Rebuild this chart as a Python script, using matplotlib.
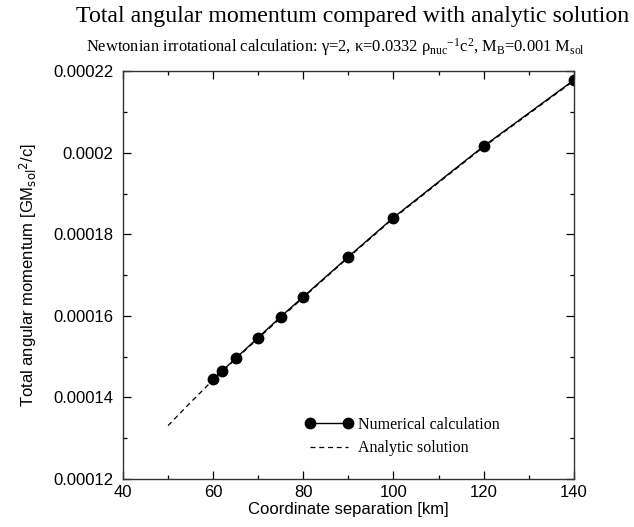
import matplotlib
matplotlib.use("Agg")
import matplotlib.pyplot as plt
from matplotlib.ticker import MultipleLocator, FixedLocator, FixedFormatter

plt.rcParams['mathtext.fontset'] = 'custom'
plt.rcParams['mathtext.rm'] = 'Liberation Serif'
plt.rcParams['mathtext.it'] = 'Liberation Serif:italic'

# Data
sep_km = [60, 62, 65, 70, 75, 80, 90, 100, 120, 140]
J_num = [0.0001446, 0.0001465, 0.0001496, 0.0001547, 0.0001598,
         0.0001647, 0.0001745, 0.0001841, 0.0002016, 0.0002178]
sep_analytic = [50, 55, 60, 70, 80, 90, 100, 120, 140]
J_analytic = [0.0001331, 0.0001388, 0.0001443, 0.0001545, 0.0001645,
              0.0001743, 0.0001839, 0.0002014, 0.0002176]
x_ticks = [40, 60, 80, 100, 120, 140]
y_ticks = [0.00012, 0.00014, 0.00016, 0.00018, 0.0002, 0.00022]
y_tick_labels = ['0.00012', '0.00014', '0.00016', '0.00018', '0.0002', '0.00022']

fig = plt.figure(figsize=(6.34, 5.27), dpi=100)
ax = fig.add_axes([0.194, 0.091, 0.711, 0.774])

ax.plot(sep_km, J_num, '-', color='black', lw=1.0, marker='o', ms=7.5,
        label='Numerical calculation')
ax.plot(sep_analytic, J_analytic, '--', color='black', lw=0.9,
        dashes=(4, 3), label='Analytic solution')

ax.set_xlim(40, 140)
ax.set_ylim(0.00012, 0.00022)
ax.xaxis.set_major_locator(FixedLocator(x_ticks))
ax.xaxis.set_minor_locator(MultipleLocator(10))
ax.yaxis.set_major_locator(FixedLocator(y_ticks))
ax.yaxis.set_major_formatter(FixedFormatter(y_tick_labels))
ax.yaxis.set_minor_locator(MultipleLocator(0.00001))

sans = 'Liberation Sans'
serif = 'Liberation Serif'
ax.tick_params(which='both', direction='in', top=True, right=True, width=0.9)
ax.tick_params(which='major', length=6, labelsize=12)
ax.tick_params(axis='y', which='major', pad=7)
ax.tick_params(axis='x', which='major', pad=4)
ax.tick_params(which='minor', length=3)
for lab in ax.get_xticklabels() + ax.get_yticklabels():
    lab.set_fontfamily(sans)
for s in ax.spines.values():
    s.set_linewidth(1.0)
    s.set_color('#333333')

ax.set_xlabel('Coordinate separation [km]', fontsize=12, family=sans, labelpad=2)
ax.set_ylabel(r'Total angular momentum [GM$_{\mathsf{sol}}{}^{\mathsf{2}}$/c]',
              fontsize=12, family=sans, labelpad=10)

fig.text(0.556, 0.958, 'Total angular momentum compared with analytic solution',
         ha='center', va='baseline', fontsize=17.2, family=serif)
fig.text(0.136, 0.901,
         'Newtonian irrotational calculation: γ=2, κ=0.0332 '
         r'ρ$_{\rm nuc}{}^{-1}$c$^{2}$, M$_{\rm B}$=0.001 M$_{\rm sol}$',
         ha='left', va='baseline', fontsize=11.9, family=serif)

leg = ax.legend(loc='upper left', bbox_to_anchor=(0.386, 0.172), frameon=False,
                numpoints=2, handlelength=2.98, handletextpad=0.33, borderpad=0,
                labelspacing=0.46, prop={'family': serif, 'size': 11.5})

fig.savefig('out.png', dpi=100)
